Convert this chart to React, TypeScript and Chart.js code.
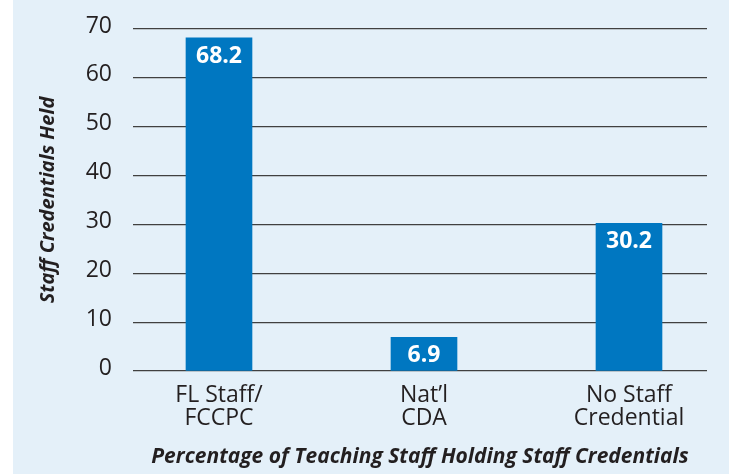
import React, { useEffect, useRef } from "react";
import { Chart, registerables } from "chart.js";

Chart.register(...registerables);

const categories: string[][] = [
  ["FL Staff/", "FCCPC"],
  ["Nat\u2019l", "CDA"],
  ["No Staff", "Credential"],
];
const values: number[] = [68.2, 6.9, 30.2];
const yTicks: number[] = [0, 10, 20, 30, 40, 50, 60, 70];
const xTitle = "Percentage of Teaching Staff Holding Staff Credentials";
const yTitle = "Staff Credentials Held";

const TEXT = "#231f20";
const BG = "#e4f0f9";
const BAR = "#0077c1";
const SANS = "'Open Sans', sans-serif";

export default function App() {
  const ref = useRef<HTMLCanvasElement | null>(null);

  useEffect(() => {
    const canvas = ref.current;
    if (!canvas) return;

    const bgPlugin = {
      id: "bg",
      beforeDraw(chart: any) {
        const ctx = chart.ctx;
        ctx.save();
        ctx.fillStyle = "#ffffff";
        ctx.fillRect(0, 0, chart.width, chart.height);
        ctx.fillStyle = BG;
        ctx.fillRect(13, 0, chart.width - 13, chart.height);
        ctx.restore();
      },
    };

    const labelPlugin = {
      id: "valueLabels",
      afterDatasetsDraw(chart: any) {
        const ctx = chart.ctx;
        const meta = chart.getDatasetMeta(0);
        ctx.save();
        ctx.fillStyle = "#ffffff";
        ctx.font = `bold 23px ${SANS}`;
        ctx.textAlign = "center";
        ctx.textBaseline = "alphabetic";
        meta.data.forEach((el: any, i: number) => {
          ctx.fillText(values[i].toFixed(1), el.x, el.y + 25);
        });
        ctx.restore();
      },
    };

    const chart = new Chart(canvas, {
      type: "bar",
      data: {
        datasets: [
          {
            data: values.map((v, i) => ({ x: i, y: v })),
            backgroundColor: BAR,
            borderWidth: 0,
            barThickness: 66,
          },
        ],
      },
      options: {
        animation: false,
        responsive: false,
        maintainAspectRatio: false,
        layout: { padding: { top: 29, right: 22, bottom: 0, left: 0 } },
        plugins: {
          legend: { display: false },
          tooltip: { enabled: false },
        },
        scales: {
          x: {
            type: "linear",
            offset: false,
            min: -0.4195,
            max: 2.3805,
            grid: { display: false },
            border: { display: false },
            afterBuildTicks(scale: any) {
              scale.ticks = categories.map((_, i) => ({ value: i }));
            },
            afterFit(scale: any) {
              scale.height = 103;
              scale.paddingLeft = 0;
              scale.paddingRight = 0;
            },
            ticks: {
              autoSkip: false,
              maxRotation: 0,
              padding: 5,
              color: TEXT,
              font: { family: SANS, size: 23, lineHeight: 1.0 },
              callback: (v: any) => categories[v as number] ?? "",
            },
            title: {
              display: true,
              text: xTitle,
              color: TEXT,
              font: { family: SANS, size: 21, weight: "bold", style: "italic", lineHeight: 1.2 },
              padding: { top: 0, bottom: 4 },
            },
          },
          y: {
            min: 0,
            max: 70,
            afterBuildTicks(scale: any) {
              scale.ticks = yTicks.map((v) => ({ value: v }));
            },
            afterFit(scale: any) {
              scale.width = 133;
              scale.paddingTop = 0;
              scale.paddingBottom = 0;
            },
            grid: {
              color: "#404040",
              lineWidth: 1.2,
              drawTicks: false,
            },
            border: { display: false },
            ticks: {
              padding: 21,
              labelOffset: -3,
              color: TEXT,
              font: { family: SANS, size: 23 },
            },
            title: {
              display: true,
              text: yTitle,
              color: TEXT,
              font: { family: SANS, size: 20, weight: "bold", style: "italic", lineHeight: 1.2 },
              padding: { top: 36, bottom: 0 },
            },
          },
        },
      },
      plugins: [bgPlugin, labelPlugin],
    } as any);

    return () => chart.destroy();
  }, []);

  return (
    <div style={{ position: "absolute", left: 0, top: 0, width: 729, height: 474 }}>
      <canvas ref={ref} width={729} height={474} style={{ display: "block", width: 729, height: 474 }} />
    </div>
  );
}
